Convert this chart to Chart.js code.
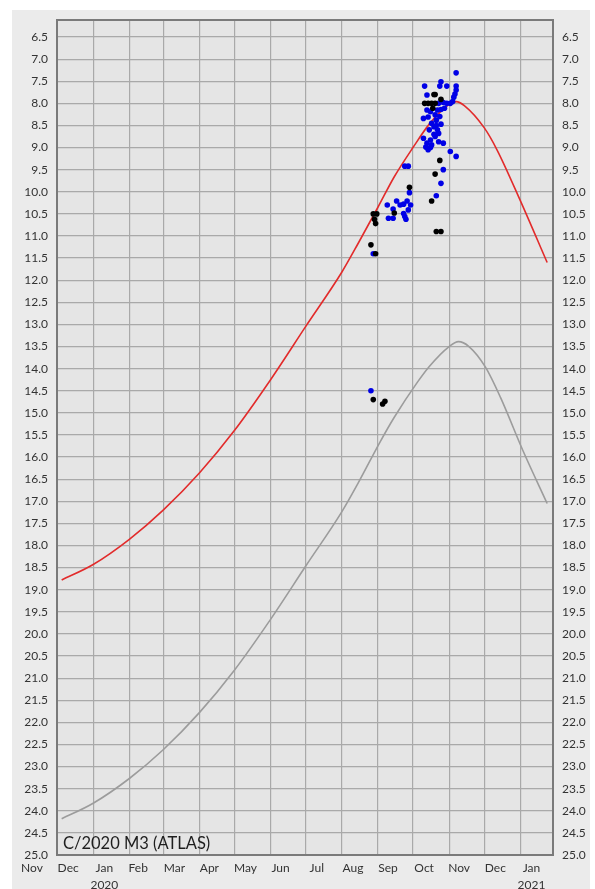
<!DOCTYPE html>
<html><head><meta charset="utf-8">
<script src="https://cdn.jsdelivr.net/npm/chart.js@4.4.1/dist/chart.umd.min.js"></script>
<style>html,body{margin:0;padding:0;background:#fff;}canvas{display:block;}</style>
</head><body>
<canvas id="c" width="595" height="889"></canvas>
<script>
// ---------- data ----------
const cometName = 'C/2020 M3 (ATLAS)';
const xMinDate = '2019-12-01';
const xMaxDate = '2021-01-29';
const yMin = 6.115, yMax = 25.0;
const magTicks = [6.5,7.0,7.5,8.0,8.5,9.0,9.5,10.0,10.5,11.0,11.5,12.0,12.5,13.0,13.5,14.0,14.5,15.0,15.5,16.0,16.5,17.0,17.5,18.0,18.5,19.0,19.5,20.0,20.5,21.0,21.5,22.0,22.5,23.0,23.5,24.0,24.5,25.0];
const monthTickDates = ['2019-12-01','2020-01-01','2020-02-01','2020-03-01','2020-04-01','2020-05-01','2020-06-01','2020-07-01','2020-08-01','2020-09-01','2020-10-01','2020-11-01','2020-12-01','2021-01-01','2021-02-01'];
const monthTickLabels = ['Nov','Dec',['Jan','2020'],'Feb','Mar','Apr','May','Jun','Jul','Aug','Sep','Oct','Nov','Dec',['Jan','2021']];

const totalDates = ['2019-12-05','2020-01-01','2020-02-01','2020-03-01','2020-04-01','2020-05-01','2020-06-01','2020-07-01','2020-08-01','2020-08-15','2020-09-01','2020-09-15','2020-10-01','2020-10-15','2020-11-01','2020-11-07','2020-11-14','2020-12-01','2020-12-12','2021-01-01','2021-01-24'];
const totalMags  = [18.78,18.43,17.86,17.2,16.36,15.4,14.25,13.05,11.82,11.17,10.35,9.66,9.0,8.47,8.02,7.96,8.05,8.55,9.05,10.2,11.6];

const nucDates = ['2019-12-05','2020-01-01','2020-02-01','2020-03-01','2020-04-01','2020-05-01','2020-06-01','2020-07-01','2020-08-01','2020-08-15','2020-09-03','2020-09-15','2020-10-05','2020-10-15','2020-11-01','2020-11-09','2020-11-18','2020-12-02','2020-12-15','2021-01-03','2021-01-24'];
const nucMags  = [24.18,23.83,23.27,22.62,21.78,20.82,19.67,18.47,17.24,16.59,15.65,15.1,14.3,13.95,13.5,13.39,13.5,13.96,14.65,15.84,17.05];

const blueDates = ['2020-08-26','2020-08-28','2020-09-09','2020-09-17','2020-09-20','2020-09-23','2020-09-26','2020-09-29','2020-09-14','2020-09-10','2020-09-14','2020-09-23','2020-09-24','2020-09-25','2020-09-27','2020-09-28','2020-09-24','2020-09-27','2020-10-21','2020-10-25','2020-10-27','2020-11-02','2020-11-07','2020-11-07','2020-10-11','2020-10-25','2020-10-24','2020-10-30','2020-11-07','2020-11-07','2020-11-06','2020-10-13','2020-11-05','2020-11-04','2020-11-02','2020-10-23','2020-10-27','2020-10-30','2020-10-13','2020-10-16','2020-10-22','2020-10-25','2020-10-28','2020-10-10','2020-10-14','2020-10-20','2020-10-17','2020-10-19','2020-10-22','2020-10-23','2020-10-20','2020-10-16','2020-10-13','2020-10-12','2020-10-17','2020-10-23','2020-10-27','2020-10-10','2020-10-25','2020-10-21','2020-10-14','2020-10-16','2020-10-19','2020-10-15','2020-10-24','2020-10-21'];
const blueMags  = [14.5,11.4,10.3,10.21,10.3,10.28,10.21,10.3,10.39,10.6,10.6,10.49,10.56,10.62,10.41,10.02,9.42,9.42,10.09,9.81,9.5,9.09,9.2,7.31,7.61,7.51,7.61,7.61,7.61,7.7,7.79,7.81,7.86,7.96,8.0,8.0,7.98,8.0,8.15,8.19,8.15,8.14,8.11,8.34,8.31,8.26,8.45,8.53,8.6,8.68,8.75,8.83,8.9,8.99,8.94,8.87,8.9,8.79,8.47,8.38,9.05,9.0,8.7,8.6,8.3,8.5];

const blackDates = ['2020-08-26','2020-08-30','2020-08-28','2020-08-31','2020-08-29','2020-08-30','2020-09-15','2020-09-28','2020-10-17','2020-10-20','2020-10-21','2020-10-25','2020-10-24','2020-10-20','2020-10-19','2020-10-25','2020-10-11','2020-10-14','2020-10-17','2020-10-20','2020-10-18','2020-08-28','2020-09-05','2020-09-07'];
const blackMags  = [11.2,11.4,10.5,10.5,10.62,10.72,10.48,9.9,10.21,9.6,10.9,10.9,9.29,7.8,7.8,7.91,8.0,8.0,8.0,8.0,8.11,14.7,14.8,14.74];

// ---------- helpers ----------
const EPOCH = Date.UTC(2019, 11, 1);
function dayNum(s){ const [y,m,d] = s.split('-').map(Number); return (Date.UTC(y, m-1, d) - EPOCH) / 864e5; }
function pts(dates, mags){ return dates.map((d,i) => ({x: dayNum(d), y: mags[i]})); }
const xMin = dayNum(xMinDate), xMax = dayNum(xMaxDate);

const FONT = 'Lato';
const gridColor = '#a9a9a9';
const labelColor = '#333333';

const bgPlugin = {
  id: 'bg',
  beforeDraw(chart){
    const {ctx, chartArea:a} = chart;
    ctx.save();
    ctx.fillStyle = '#ffffff'; ctx.fillRect(0,0,chart.width,chart.height);
    ctx.fillStyle = '#ebebeb'; ctx.fillRect(12,10,578,chart.height-10);
    ctx.fillStyle = '#e5e5e5'; ctx.fillRect(a.left,a.top,a.right-a.left,a.bottom-a.top);
    ctx.restore();
  }
};
const framePlugin = {
  id: 'frame',
  beforeDatasetsDraw(chart){
    const {ctx, chartArea:a} = chart;
    ctx.save();
    ctx.strokeStyle = '#7a7a7a'; ctx.lineWidth = 2;
    ctx.strokeRect(a.left, a.top, a.right-a.left, a.bottom-a.top);
    ctx.restore();
  },
  afterDraw(chart){
    const {ctx, chartArea:a} = chart;
    ctx.save();
    ctx.fillStyle = '#1e1e1e';
    ctx.font = '16.5px ' + FONT;
    ctx.textBaseline = 'alphabetic';
    ctx.textAlign = 'left';
    ctx.fillText(cometName, a.left + 6, a.bottom - 6);
    ctx.restore();
  }
};

const yCommon = {
  type: 'linear', reverse: true, min: yMin, max: yMax,
  afterBuildTicks: s => { s.ticks = magTicks.map(v => ({value: v})); },
  ticks: { padding: 9, color: labelColor, font: {family: FONT, size: 12}, callback: v => Number(v).toFixed(1) },
  border: { display: false }
};

new Chart(document.getElementById('c'), {
  type: 'scatter',
  data: {
    datasets: [
      { label: 'black', data: pts(blackDates, blackMags), backgroundColor: '#000000', borderWidth: 0, pointRadius: 2.8, order: 1 },
      { label: 'blue', data: pts(blueDates, blueMags), backgroundColor: '#0000e6', borderWidth: 0, pointRadius: 2.8, order: 2 },
      { type: 'line', label: 'total', data: pts(totalDates, totalMags), borderColor: '#e22b2b', borderWidth: 1.6, pointRadius: 0, cubicInterpolationMode: 'monotone', fill: false, order: 3 },
      { type: 'line', label: 'nucleus', data: pts(nucDates, nucMags), borderColor: '#9c9c9c', borderWidth: 1.6, pointRadius: 0, cubicInterpolationMode: 'monotone', fill: false, order: 4 }
    ]
  },
  options: {
    responsive: false, animation: false, events: [],
    layout: { padding: { top: 20, left: 0, right: 0, bottom: 0 } },
    plugins: { legend: { display: false }, tooltip: { enabled: false } },
    scales: {
      x: {
        type: 'linear', position: 'bottom', min: xMin, max: xMax,
        afterBuildTicks: s => { s.ticks = monthTickDates.map(d => ({value: dayNum(d)})); },
        afterFit: s => { s.height = 34; s.paddingLeft = 0; s.paddingRight = 0; },
        ticks: { autoSkip: false, maxRotation: 0, minRotation: 0, labelOffset: -25, padding: 4, color: labelColor,
                 font: {family: FONT, size: 12, lineHeight: 1.45}, callback: (v, i) => monthTickLabels[i] },
        grid: { color: c => (c.tick && c.tick.value > xMax) ? 'rgba(0,0,0,0)' : gridColor, lineWidth: 1.2, drawTicks: false },
        border: { display: false }
      },
      y: Object.assign({}, yCommon, {
        position: 'left',
        afterFit: s => { s.width = 57; s.paddingTop = 0; s.paddingBottom = 0; },
        grid: { color: gridColor, lineWidth: 1.2, drawTicks: false }
      }),
      y2: Object.assign({}, yCommon, {
        position: 'right',
        afterFit: s => { s.width = 42; s.paddingTop = 0; s.paddingBottom = 0; },
        grid: { display: false, drawTicks: false }
      })
    }
  },
  plugins: [bgPlugin, framePlugin]
});
</script>
</body></html>
